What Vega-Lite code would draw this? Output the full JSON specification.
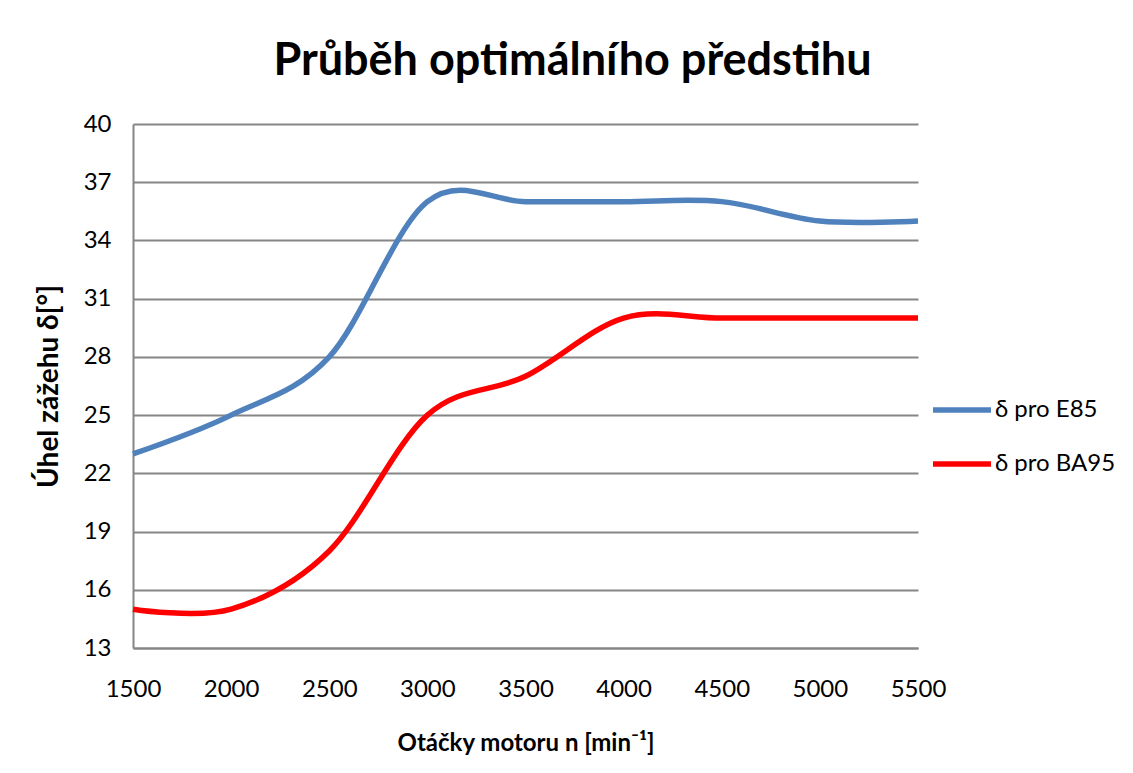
{
  "$schema": "https://vega.github.io/schema/vega-lite/v6.json",
  "autosize": {"type": "none"},
  "width": 785,
  "height": 524,
  "padding": {"left": 133, "top": 124, "right": 215, "bottom": 125},
  "background": "white",
  "title": {
    "text": "Průběh optimálního předstihu",
    "font": "Lato",
    "fontSize": 45,
    "fontWeight": "bold",
    "color": "#000000",
    "anchor": "middle",
    "dx": 47,
    "offset": 28
  },
  "config": {
    "view": {"stroke": null},
    "font": "Lato"
  },
  "data": {
    "values": [
      {"n": 1500, "delta": 23, "series": "δ pro E85"},
      {"n": 2000, "delta": 25, "series": "δ pro E85"},
      {"n": 2500, "delta": 28, "series": "δ pro E85"},
      {"n": 3000, "delta": 36, "series": "δ pro E85"},
      {"n": 3500, "delta": 36, "series": "δ pro E85"},
      {"n": 4000, "delta": 36, "series": "δ pro E85"},
      {"n": 4500, "delta": 36, "series": "δ pro E85"},
      {"n": 5000, "delta": 35, "series": "δ pro E85"},
      {"n": 5500, "delta": 35, "series": "δ pro E85"},
      {"n": 1500, "delta": 15, "series": "δ pro BA95"},
      {"n": 2000, "delta": 15, "series": "δ pro BA95"},
      {"n": 2500, "delta": 18, "series": "δ pro BA95"},
      {"n": 3000, "delta": 25, "series": "δ pro BA95"},
      {"n": 3500, "delta": 27, "series": "δ pro BA95"},
      {"n": 4000, "delta": 30, "series": "δ pro BA95"},
      {"n": 4500, "delta": 30, "series": "δ pro BA95"},
      {"n": 5000, "delta": 30, "series": "δ pro BA95"},
      {"n": 5500, "delta": 30, "series": "δ pro BA95"}
    ]
  },
  "mark": {"type": "line", "interpolate": "cardinal", "tension": 0, "strokeWidth": 5.5, "strokeCap": "butt"},
  "encoding": {
    "x": {
      "field": "n",
      "type": "quantitative",
      "scale": {"domain": [1500, 5500], "nice": false, "zero": false},
      "axis": {
        "title": "Otáčky motoru n [min⁻¹]",
        "values": [1500, 2000, 2500, 3000, 3500, 4000, 4500, 5000, 5500],
        "format": "d",
        "grid": false,
        "ticks": false,
        "domain": true,
        "domainColor": "#868686",
        "domainWidth": 2,
        "labelFont": "Lato",
        "labelFontSize": 24,
        "labelColor": "#000000",
        "labelPadding": 29,
        "labelFlush": false,
        "titleFont": "Lato",
        "titleFontSize": 24,
        "titleFontWeight": "bold",
        "titleColor": "#000000",
        "titlePadding": 30
      }
    },
    "y": {
      "field": "delta",
      "type": "quantitative",
      "scale": {"domain": [13, 40], "nice": false, "zero": false},
      "axis": {
        "title": "Úhel zážehu δ[°]",
        "values": [13, 16, 19, 22, 25, 28, 31, 34, 37, 40],
        "grid": true,
        "gridColor": "#868686",
        "gridWidth": 2,
        "ticks": false,
        "domain": true,
        "domainColor": "#868686",
        "domainWidth": 2,
        "labelFont": "Lato",
        "labelFontSize": 24,
        "labelColor": "#000000",
        "labelPadding": 22,
        "titleFont": "Lato",
        "titleFontSize": 28,
        "titleFontWeight": "bold",
        "titleColor": "#000000",
        "titlePadding": 20
      }
    },
    "color": {
      "field": "series",
      "type": "nominal",
      "scale": {"domain": ["δ pro E85", "δ pro BA95"], "range": ["#4F81BD", "#FF0000"]},
      "legend": {
        "title": null,
        "orient": "none",
        "legendX": 797,
        "legendY": 254,
        "symbolType": "stroke",
        "symbolSize": 3364,
        "symbolStrokeWidth": 5.5,
        "labelFont": "Lato",
        "labelFontSize": 24,
        "labelColor": "#000000",
        "labelOffset": 1,
        "rowPadding": 10
      }
    }
  }
}
